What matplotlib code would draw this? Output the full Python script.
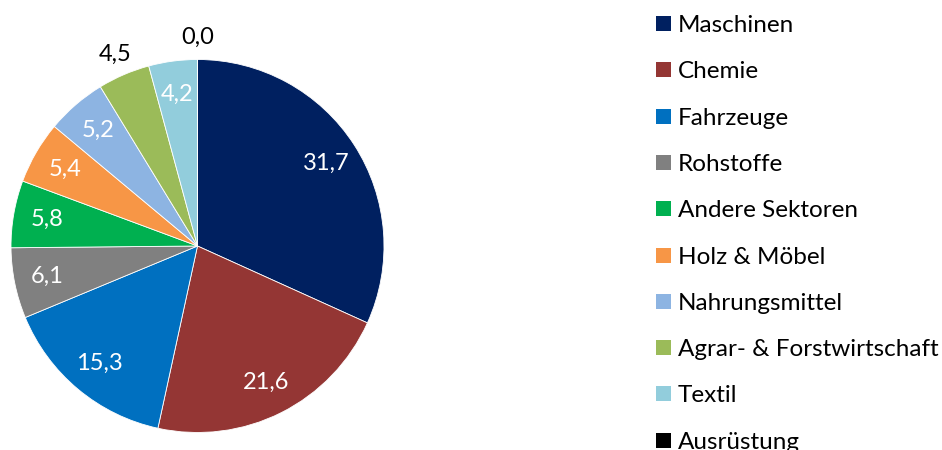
import matplotlib
matplotlib.use("Agg")
import matplotlib.pyplot as plt
from matplotlib.patches import Rectangle
import numpy as np

categories = ["Maschinen", "Chemie", "Fahrzeuge", "Rohstoffe", "Andere Sektoren",
              "Holz & Möbel", "Nahrungsmittel", "Agrar- & Forstwirtschaft", "Textil", "Ausrüstung"]
values = [31.7, 21.6, 15.3, 6.1, 5.8, 5.4, 5.2, 4.5, 4.2, 0.0]
value_labels = ["31,7", "21,6", "15,3", "6,1", "5,8", "5,4", "5,2", "4,5", "4,2", "0,0"]
colors = ["#002060", "#943634", "#0070C0", "#808080", "#00B050",
          "#F79646", "#8DB4E2", "#9BBB59", "#92CDDC", "#000000"]
outside = [False, False, False, False, False, False, False, True, False, True]

W, H = 942, 450
plt.rcParams['font.family'] = ['Lato', 'DejaVu Sans']
FS_VAL = 17
FS_LEG = 17.5

fig = plt.figure(figsize=(W / 100, H / 100), dpi=100)
cx, cy, r = 197.5, 246, 186.5
ax = fig.add_axes([(cx - r) / W, (H - cy - r) / H, 2 * r / W, 2 * r / H])
wedges, _ = ax.pie(values, colors=colors, startangle=90, counterclock=False, radius=1,
                   wedgeprops=dict(edgecolor="white", linewidth=0.6))
ax.set_xlim(-1, 1)
ax.set_ylim(-1, 1)
ax.set_aspect("equal")
ax.axis("off")

for w, lab, out in zip(wedges, value_labels, outside):
    ang = np.deg2rad((w.theta1 + w.theta2) / 2)
    d = 1.12 if out else 0.82
    ax.text(d * np.cos(ang), d * np.sin(ang), lab, ha="center", va="center",
            fontsize=FS_VAL, color="black" if out else "white", clip_on=False)

# Legend
lx, sq = 656, 15
for i, (c, lab) in enumerate(zip(colors, categories)):
    top = 16 + i * 46.3
    fig.patches.append(Rectangle((lx / W, 1 - (top + sq) / H), sq / W, sq / H,
                                 transform=fig.transFigure, facecolor=c, edgecolor="none"))
    fig.text(678 / W, 1 - (32 + i * 46.3) / H, lab, ha="left", va="baseline",
             fontsize=FS_LEG, color="black")

fig.savefig("out.png", dpi=100)
